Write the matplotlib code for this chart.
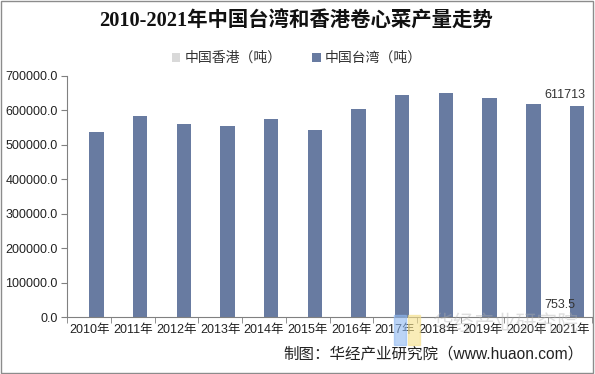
import matplotlib
matplotlib.use("Agg")
import matplotlib.pyplot as plt
import numpy as np
from matplotlib.patches import Rectangle

plt.rcParams['font.family'] = ['Liberation Sans', 'Noto Sans CJK SC', 'DejaVu Sans']

years = ["2010年", "2011年", "2012年", "2013年", "2014年", "2015年",
         "2016年", "2017年", "2018年", "2019年", "2020年", "2021年"]
hongkong = [760, 770, 760, 750, 760, 750, 760, 750, 760, 750, 755, 753.5]
taiwan = [537000, 583000, 560000, 554000, 574000, 542000,
          604000, 645000, 650000, 636000, 617000, 611713]
yticks = [0, 100000, 200000, 300000, 400000, 500000, 600000, 700000]

c_hk = "#d9d9d9"
c_tw = "#687ba1"

fig = plt.figure(figsize=(5.95, 3.74), dpi=100)
fig.patches.append(Rectangle((0.002, 0.003), 0.995, 0.994, transform=fig.transFigure,
                             fill=False, edgecolor="#8c8c8c", linewidth=1.0))

ax = fig.add_axes([67.3/595, 1-317.3/374, (591.7-67.3)/595, (317.3-75.7)/374])
x = np.arange(len(years))
w = 0.33
ax.bar(x - w/2, hongkong, w, color=c_hk, label="中国香港（吨）")
ax.bar(x + w/2, taiwan, w, color=c_tw, label="中国台湾（吨）")

ax.set_xlim(-0.5, len(years) - 0.5)
ax.set_ylim(0, 700000)
ax.set_yticks(yticks)
ax.set_yticklabels([f"{v:.1f}" for v in yticks], fontsize=9, color="#222222")
ax.set_xticks(x)
ax.set_xticklabels(years, fontsize=9, color="#222222")
ax.tick_params(axis='x', length=0, pad=5)
ax.set_xticks(np.arange(-0.5, len(years), 1), minor=True)
ax.tick_params(axis='x', which='minor', length=4, color="#808080")
ax.tick_params(axis='y', length=4, color="#808080", pad=3)
for s in ["top", "right"]:
    ax.spines[s].set_visible(False)
for s in ["left", "bottom"]:
    ax.spines[s].set_color("#808080")

ax.annotate(f"{taiwan[-1]:d}", (x[-1] + w, taiwan[-1]), xytext=(1, 4),
            textcoords="offset points", ha="right", va="bottom", fontsize=9, color="#333333")
ax.annotate(f"{hongkong[-1]}", (x[-1] - w/2, hongkong[-1]), xytext=(-2, 4),
            textcoords="offset points", ha="center", va="bottom", fontsize=9, color="#333333")

fig.text(0.497, 1-22/374, "2010-2021年中国台湾和香港卷心菜产量走势", ha="center", va="center",
         fontsize=14.7, fontweight="bold", family=['Liberation Serif', 'Noto Sans CJK SC'],
         color="#111111")

leg = ax.legend(loc="center", bbox_to_anchor=(297/595, 1-58/374), bbox_transform=fig.transFigure,
                ncol=2, frameon=False, fontsize=10, handlelength=0.6, handleheight=0.6,
                columnspacing=2.2, handletextpad=0.3)
for t in leg.get_texts():
    t.set_color("#333333")

# watermark
fig.text(505/595, 1-325/374, "华经产业研究院", ha="center", va="center", fontsize=15,
         color="#b0b0b0", alpha=0.4, family=['Noto Sans CJK SC'])
fig.patches.append(Rectangle((394/595, 1-345/374), 12/595, 30/374, transform=fig.transFigure,
                             color="#8fb8f0", alpha=0.6))
fig.patches.append(Rectangle((408/595, 1-345/374), 12/595, 30/374, transform=fig.transFigure,
                             color="#f5e08a", alpha=0.6))

fig.text(583/595, 1-354/374, "制图：华经产业研究院（www.huaon.com）", ha="right", va="center",
         fontsize=11.2, color="#222222")

fig.savefig("out.png", dpi=100)
